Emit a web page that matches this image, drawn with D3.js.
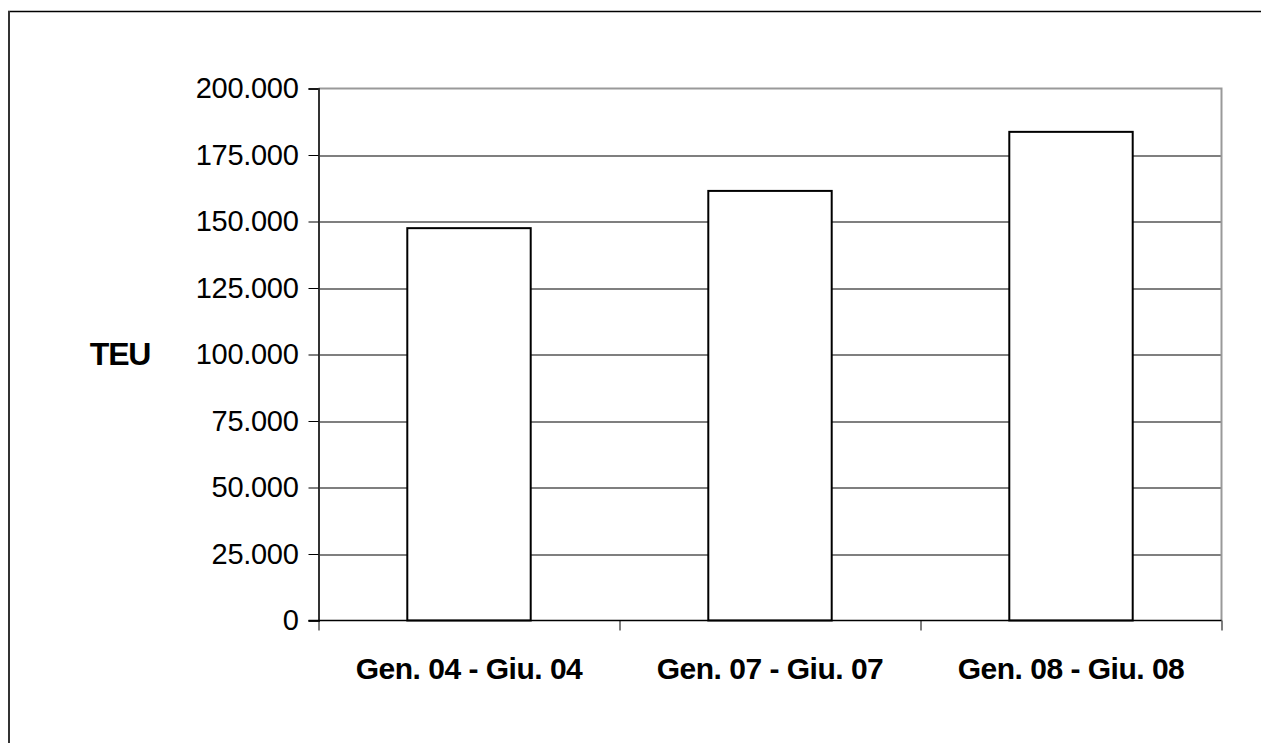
<!DOCTYPE html>
<html>
<head>
<meta charset="utf-8">
<script src="https://cdn.jsdelivr.net/npm/d3@7"></script>
<style>
  body { margin: 0; background: #fff; }
  svg { display: block; }
</style>
</head>
<body>
<svg id="svg" width="1261" height="743"></svg>
<script>
// data
var categories = ["Gen. 04 - Giu. 04", "Gen. 07 - Giu. 07", "Gen. 08 - Giu. 08"];
var teu = [147500, 161500, 183700];
var yTicks = [0, 25000, 50000, 75000, 100000, 125000, 150000, 175000, 200000];
var yTitle = "TEU";

var margin = {top: 88.5, right: 39.5, bottom: 122.5, left: 318.5};
var width = 1261, height = 743;
var gwidth = width - margin.left - margin.right;
var gheight = height - margin.top - margin.bottom;

var container = d3.select("#svg");

// outer frame (only top and left show)
container.append("line")
    .attr("x1", 8).attr("x2", width).attr("y1", 11.5).attr("y2", 11.5)
    .attr("stroke", "#000").attr("stroke-width", 1.5);
container.append("line")
    .attr("x1", 9).attr("x2", 9).attr("y1", 11).attr("y2", height)
    .attr("stroke", "#333").attr("stroke-width", 2);

var svg = container.append("g")
    .attr("transform", "translate(" + margin.left + "," + margin.top + ")");

var x = d3.scaleBand()
    .domain(categories)
    .range([0, gwidth])
    .paddingInner(0.59)
    .paddingOuter(0.295);

var y = d3.scaleLinear()
    .domain([0, 200000])
    .range([gheight, 0]);

var fmt = function(d){ return d3.format(",")(d).replace(/,/g, "."); };

// gridlines
svg.selectAll(".grid")
    .data(yTicks.slice(1, -1))
    .enter().append("line")
    .attr("class", "grid")
    .attr("x1", 0).attr("x2", gwidth)
    .attr("y1", function(d){ return Math.round(y(d)) + 0.5; })
    .attr("y2", function(d){ return Math.round(y(d)) + 0.5; })
    .attr("stroke", "#000").attr("stroke-width", 1.2);

// gray plot border top + right
svg.append("path")
    .attr("d", "M0,0H" + gwidth + "V" + gheight)
    .attr("fill", "none")
    .attr("stroke", "#999").attr("stroke-width", 2);

// bars
svg.selectAll(".bar")
    .data(teu)
    .enter().append("rect")
    .attr("class", "bar")
    .attr("x", function(d, i){ return x(categories[i]); })
    .attr("width", x.bandwidth())
    .attr("y", function(d){ return y(d); })
    .attr("height", function(d){ return gheight - y(d); })
    .attr("fill", "#fff")
    .attr("stroke", "#000")
    .attr("stroke-width", 2);

// y axis
var yAxis = d3.axisLeft(y)
    .tickValues(yTicks)
    .tickSize(10)
    .tickPadding(10)
    .tickFormat(fmt);

var yg = svg.append("g")
    .attr("class", "y axis")
    .call(yAxis);
yg.select(".domain").attr("stroke", "#333").attr("stroke-width", 2);
yg.selectAll(".tick line").attr("stroke", "#000");
yg.selectAll(".tick text")
    .attr("font-family", "Liberation Sans, Arial, sans-serif")
    .attr("font-size", 29)
    .attr("fill", "#000")
    .attr("letter-spacing", -0.3);

// x axis, ticks at category boundaries
var xg = svg.append("g")
    .attr("class", "x axis")
    .attr("transform", "translate(0," + gheight + ")");
xg.append("line")
    .attr("x1", -10).attr("x2", gwidth)
    .attr("stroke", "#000").attr("stroke-width", 1.5);
xg.selectAll(".xtick")
    .data(d3.range(categories.length + 1))
    .enter().append("line")
    .attr("class", "xtick")
    .attr("x1", function(i){ return Math.round(i * x.step()) + 0.5; })
    .attr("x2", function(i){ return Math.round(i * x.step()) + 0.5; })
    .attr("y1", 0).attr("y2", 10)
    .attr("stroke", "#000");
xg.selectAll(".xlabel")
    .data(categories)
    .enter().append("text")
    .attr("class", "xlabel")
    .attr("text-anchor", "middle")
    .attr("font-family", "Liberation Sans, Arial, sans-serif")
    .attr("font-weight", "bold")
    .attr("font-size", 30)
    .attr("letter-spacing", -0.5)
    .attr("x", function(d){ return x(d) + x.bandwidth() / 2; })
    .attr("y", 58)
    .text(function(d){ return d; });

// y title
container.append("text")
    .attr("text-anchor", "middle")
    .attr("font-family", "Liberation Sans, Arial, sans-serif")
    .attr("font-weight", "bold")
    .attr("font-size", 32)
    .attr("letter-spacing", -1.2)
    .attr("x", 120)
    .attr("y", 365)
    .text(yTitle);
</script>
</body>
</html>
